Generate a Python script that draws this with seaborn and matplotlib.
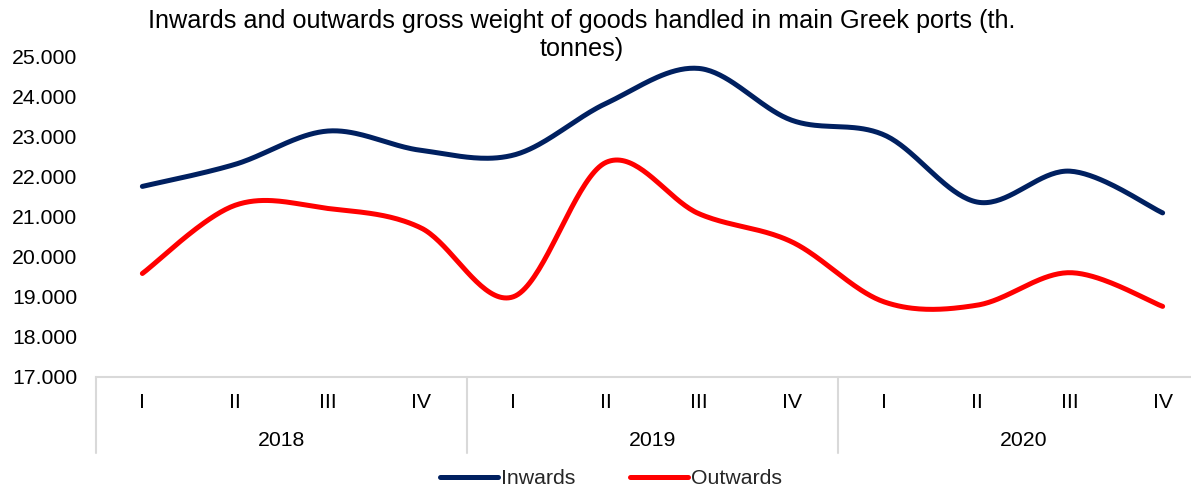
import numpy as np
import pandas as pd
import matplotlib
matplotlib.use("Agg")
import matplotlib.pyplot as plt
from matplotlib.lines import Line2D
from matplotlib.ticker import FuncFormatter
import seaborn as sns

quarters = ["I", "II", "III", "IV"] * 3
years = ["2018", "2019", "2020"]
inwards = [21750, 22300, 23130, 22650, 22530, 23820, 24690, 23400, 23030, 21360, 22130, 21090]
outwards = [19580, 21280, 21200, 20720, 19000, 22350, 21070, 20370, 18870, 18790, 19600, 18760]
series_names = ["Inwards", "Outwards"]
colors = {"Inwards": "#002060", "Outwards": "#FF0000"}
title = "Inwards and outwards gross weight of goods handled in main Greek ports (th.\ntonnes)"


def smooth(xs, ys, n=40):
    """Excel-like smoothed line: cubic Bezier segments with Catmull-Rom control points."""
    P = np.column_stack([xs, ys]).astype(float)
    P_ext = np.vstack([P[0], P, P[-1]])
    out = []
    t = np.linspace(0, 1, n, endpoint=False)[:, None]
    for i in range(len(P) - 1):
        p0, p1, p2, p3 = P_ext[i], P_ext[i + 1], P_ext[i + 2], P_ext[i + 3]
        c1 = p1 + (p2 - p0) / 6.0
        c2 = p2 - (p3 - p1) / 6.0
        seg = ((1 - t) ** 3) * p1 + 3 * ((1 - t) ** 2) * t * c1 + 3 * (1 - t) * t ** 2 * c2 + t ** 3 * p2
        out.append(seg)
    out.append(P[-1][None, :])
    out = np.vstack(out)
    return out[:, 0], out[:, 1]


x = np.arange(len(quarters))
frames = []
for name, vals in zip(series_names, [inwards, outwards]):
    sx, sy = smooth(x, vals)
    frames.append(pd.DataFrame({"x": sx, "value": sy, "series": name}))
df = pd.concat(frames, ignore_index=True)

sns.set_theme(style="white")
plt.rcParams["font.family"] = ["Liberation Sans", "DejaVu Sans"]

FS = 15.3
W, H = 1191, 488
fig = plt.figure(figsize=(W / 100, H / 100), dpi=100)
left_px, right_px, top_px, bottom_px = 96, 1209, 56, 377
ax_h = bottom_px - top_px
ax = fig.add_axes([left_px / W, 1 - bottom_px / H, (right_px - left_px) / W, ax_h / H])

sns.lineplot(data=df, x="x", y="value", hue="series", palette=colors, hue_order=series_names,
             linewidth=3.6, sort=False, estimator=None, units="series", ax=ax, legend=False,
             solid_capstyle="round")

ax.set_xlim(-0.5, len(quarters) - 0.5)
ax.set_ylim(17000, 25000)
ax.set_yticks(np.arange(17000, 25001, 1000))
ax.yaxis.set_major_formatter(FuncFormatter(lambda v, p: f"{int(v):,}".replace(",", ".")))
ax.tick_params(axis="y", length=0, labelsize=FS, pad=13.5, labelcolor="#000000")
ax.set_xticks(x)
ax.set_xticklabels([])
ax.tick_params(axis="x", length=0)
ax.set_xlabel("")
ax.set_ylabel("")
for s in ["top", "right", "left"]:
    ax.spines[s].set_visible(False)
ax.spines["bottom"].set_color("#D9D9D9")
ax.spines["bottom"].set_linewidth(1.5)
ax.grid(False)

xt = ax.get_xaxis_transform()
for xi, q in zip(x, quarters):
    ax.text(xi, -(402 - bottom_px) / ax_h, q, transform=xt, ha="center", va="center",
            fontsize=FS, color="#000000")

# category group separators and year labels
for b in [-0.5, 3.5, 7.5, 11.5]:
    ax.add_line(Line2D([b, b], [0, -(453 - bottom_px) / ax_h], transform=xt,
                       color="#D9D9D9", linewidth=1.5, clip_on=False))
for i, yr in enumerate(years):
    ax.text(i * 4 + 1.5, -(441 - bottom_px) / ax_h, yr, transform=xt,
            ha="center", va="center", fontsize=FS, color="#000000")

fig.text(582 / W, 1 - 35 / H, title, ha="center", va="center", fontsize=18.2,
         color="#000000", linespacing=1.2)

handles = [Line2D([0], [0], color=colors[n], linewidth=3.6) for n in series_names]
fig.legend(handles, series_names, loc="center", bbox_to_anchor=(611 / W, 1 - 479 / H), ncol=2,
           frameon=False, fontsize=FS, handlelength=2.7, handletextpad=0.15, columnspacing=2.6)

fig.savefig("out.png", dpi=100)
